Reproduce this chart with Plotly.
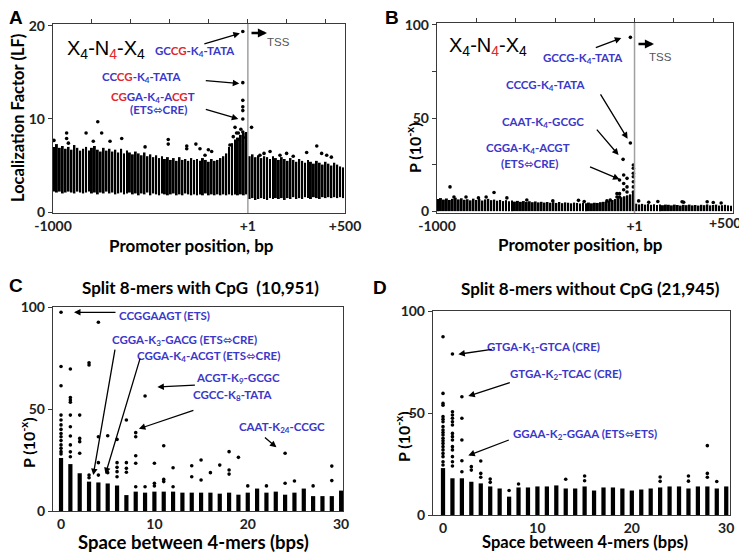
import plotly.graph_objects as go

# page offset of the plot div inside the browser window (default body margin)
OX, OY = 8, 8
FW, FH = 739, 549

# ---------------- Panel A: Localization factor vs promoter position ----------------
a_cols = list(range(-995, 500, 15))
a_top = [7.0, 7.3, 6.9, 7.1, 6.8, 7.0, 6.7, 7.2, 6.9, 6.6,
         6.8, 7.0, 6.6, 6.9, 7.1, 6.7, 6.5, 6.9, 6.6, 6.8,
         6.5, 6.7, 6.4, 6.8, 6.3, 6.6, 6.4, 6.2, 6.5, 6.3,
         6.1, 6.4, 6.0, 6.2, 5.9, 6.1, 5.8, 6.0, 5.7, 5.9,
         5.6, 5.8, 5.5, 5.9, 5.6, 5.7, 5.5, 5.8, 5.6, 5.7,
         5.5, 5.8, 5.6, 5.4, 5.7, 5.5, 5.6, 5.8, 6.0, 6.3,
         7.0, 7.4, 7.8, 8.0, 8.3, 8.5, 8.6,
         6.0, 6.2, 5.9, 6.1, 5.8, 6.0, 5.9, 5.7, 6.0, 5.8,
         5.6, 5.9, 5.7, 5.5, 5.8, 5.6, 5.4, 5.7, 5.5, 5.3,
         5.6, 5.4, 5.2, 5.5, 5.3, 5.1, 5.4, 5.2, 5.0, 5.3,
         5.1, 4.9, 4.8]
a_bot = [2.2, 2.1, 2.2, 2.0, 2.1, 2.2, 2.1, 2.0, 2.2, 2.1,
         2.0, 2.1, 2.2, 2.0, 2.1, 1.9, 2.1, 2.0, 2.2, 2.0,
         2.1, 1.9, 2.0, 2.1, 1.9, 2.0, 2.1, 1.9, 2.0, 1.8,
         2.0, 1.9, 2.1, 1.8, 2.0, 1.9, 1.8, 2.0, 1.9, 1.8,
         1.9, 2.0, 1.8, 1.9, 1.8, 2.0, 1.9, 1.8, 1.9, 1.8,
         1.9, 1.8, 2.0, 1.8, 1.9, 1.8, 1.9, 1.8, 1.9, 1.8,
         1.9, 1.8, 1.9, 1.8, 1.9, 1.8, 1.9,
         1.4, 1.5, 1.3, 1.4, 1.5, 1.4, 1.3, 1.5, 1.4, 1.5,
         1.4, 1.5, 1.3, 1.5, 1.4, 1.6, 1.4, 1.5, 1.4, 1.6,
         1.5, 1.4, 1.6, 1.5, 1.4, 1.6, 1.5, 1.6, 1.5, 1.6,
         1.5, 1.6, 1.5]
a_out_x = [-995, -930, -930, -921, -830, -793, -770, -750, -707, -647, -527, -408, -408,
           -313, -313, -266, -245, -219, -202, -185, -91, -74, -65, -57, -48, -50, -35,
           -25, -25, -25, -25, -25, -25, -25, -10, 20, 63, 84, 115, 166, 200, 234, 303,
           355, 380, 406, 430]
a_out_y = [7.7, 8.5, 7.9, 7.4, 8.5, 7.6, 9.7, 8.5, 7.6, 7.9, 7.0, 7.8, 7.3,
           7.1, 6.8, 7.3, 6.8, 6.1, 6.7, 6.5, 7.2, 8.1, 9.1, 8.5, 8.5, 7.8, 8.9,
           19.4, 13.9, 12.0, 11.3, 10.9, 10.0, 8.6, 8.0, 9.1, 6.1, 6.3, 6.5, 6.1, 6.3, 6.0, 6.4,
           7.1, 6.3, 6.1, 5.9]

# ---------------- Panel B: P vs promoter position ----------------
b_cols = list(range(-995, 500, 15))
b_top = [6.5, 7.0, 6.2, 6.8, 6.0, 6.6, 7.2, 6.3, 6.9, 6.1,
         6.4, 5.8, 6.7, 6.0, 6.5, 5.7, 6.3, 6.6, 5.9, 6.2,
         5.6, 6.0, 5.4, 5.9, 5.3, 5.7, 5.1, 5.5, 5.0, 5.4,
         4.9, 5.3, 4.8, 5.2, 4.7, 5.0, 4.6, 4.9, 4.5, 4.8,
         4.4, 4.9, 4.3, 4.7, 4.5, 4.2, 4.6, 4.4, 4.1, 4.5,
         4.3, 4.6, 4.2, 4.5, 4.4, 4.8, 5.0, 5.2, 5.5, 6.0,
         6.5, 7.0, 7.5, 8.0, 8.5, 9.0, 10.0,
         4.0, 3.6, 3.9, 3.5, 3.8, 3.4, 3.7, 3.3, 3.6, 3.2,
         3.5, 3.4, 3.1, 3.5, 3.3, 3.0, 3.4, 3.2, 3.5, 3.1,
         3.3, 3.0, 3.4, 3.2, 3.6, 3.1, 3.3, 3.5, 3.0, 3.2,
         3.4, 3.1, 2.9]
b_out_x = [-934, -914, -853, -790, -751, -711, -646, -545, -413, -283, -254, -139, -122,
           -88, -88, -75, -75, -75, -57, -54, -54, -54, -37, -37, -37, -20, -20,
           -5, -5, -5, -5, -5, -5, -5, 22, 73, 119, 242, 250, 369, 400, 440]
b_out_y = [13.0, 7.6, 7.6, 7.1, 7.6, 10.0, 7.1, 6.0, 5.5, 5.8, 5.2, 5.5, 6.0,
           9.4, 7.6, 16.7, 9.4, 7.6, 27.8, 19.4, 14.8, 11.5, 17.6, 13.0, 10.3, 93.3, 36.6,
           24.8, 23.0, 20.3, 18.5, 15.8, 13.0, 10.3, 5.5, 4.8, 5.2, 5.0, 4.8, 5.0, 4.6, 4.4]

# ---------------- Panel C: split 8-mers with CpG ----------------
c_space = list(range(0, 31))
c_dense = [26, 23, 18.5, 14.4, 14, 13.5, 12.5, 7.8, 9.5, 9, 9.5, 9.5, 9.5, 9, 9, 9,
           9, 8.5, 9, 8, 9, 11, 9, 9.5, 8, 9, 11, 7.3, 7.3, 7.3, 10]
c_out_x = [0, 0, 0, 0, 0, 0, 0, 0, 0, 0, 0, 0, 0, 0,
           1, 1, 1, 1, 1, 1, 1, 1, 1, 1,
           2, 2, 2, 2, 3, 3, 3, 3, 4, 4, 4, 4, 5, 5,
           6, 6, 6, 6, 6, 7, 7, 7, 7, 8, 8, 8, 8, 8, 9, 9,
           10, 10, 10, 11, 11, 11, 12, 12, 14, 14, 15, 15, 16, 17,
           18, 18, 18, 19, 20, 22, 24, 24, 25, 27, 29, 29]
c_out_y = [97.4, 70.8, 61.4, 47, 44.6, 42.2, 40, 38, 36.4, 34.5, 32.4, 30.7, 29.1, 28,
           69.6, 55.6, 54.4, 53.3, 47, 41.3, 36.8, 32.4, 29, 26.6,
           47, 35.6, 34, 28.3, 72.7, 71.6, 17.6, 16.3, 92.5, 36.4, 23.7, 17.6, 36.9, 18.8,
           35.1, 23.7, 21.4, 19.3, 16.8, 44.6, 23.7, 20.9, 19, 38.4, 36.4, 27.1, 23.4, 11.9, 56.4, 11.9,
           23.4, 13.6, 12.3, 32, 15.5, 14.4, 21.2, 11.9, 22.2, 16.8, 25, 15.2, 18.8, 22.5,
           29.1, 20.1, 18.1, 26.3, 12.3, 12.3, 28.3, 13.6, 14.7, 12.3, 22, 14.9]

# ---------------- Panel D: split 8-mers without CpG ----------------
d_space = list(range(0, 31))
d_dense = [23, 18, 18, 16.3, 15.5, 14, 13, 9, 13.5, 13.5, 14, 14, 14.5, 13, 13, 14,
           12, 13.5, 13.5, 13, 12, 12.5, 13, 13.5, 14, 14, 13, 14, 14, 13, 14]
d_out_x = [0, 0, 0, 0, 0, 0, 0, 0, 0, 0, 0, 0, 0, 0, 0, 0, 0, 0, 0, 0,
           1, 1, 1, 1, 1, 1, 1, 1, 1, 1, 1, 1, 1, 1,
           2, 2, 2, 2, 2, 3, 3, 4, 4, 4, 5, 5, 7, 8,
           13, 15, 15, 23, 23, 26, 26, 28, 28, 28, 29]
d_out_y = [87.4, 59.6, 54.7, 53.8, 48.2, 46.9, 45.7, 43.3, 41.7, 40.4, 39.2, 37.6, 36.4,
           35.1, 33.5, 31.9, 30.2, 28.6, 26.1, 24.5,
           78.9, 50.6, 49, 47.4, 45.7, 44.1, 40, 38.4, 36.8, 33.5, 31.9, 28.6, 26.1, 24,
           58, 47.4, 36.8, 26.6, 21.2, 23.7, 22, 26.5, 20.4, 18.5, 17.6, 16, 12, 15.2,
           17.5, 19.1, 16.8, 18.6, 16.5, 19.1, 16.6, 34, 20.4, 18.5, 16.4]

BLUE = "#3b38c9"
RED = "#e3262b"
FONT = "Lato"
AXC = "#3a3a3a"


def px(x):
    return (x - OX) / FW


def py(y):
    return 1 - (y - OY) / FH


fig = go.Figure()
dot = dict(color="black", size=3.6)

fig.add_trace(go.Bar(x=a_cols, y=[t - b for t, b in zip(a_top, a_bot)], base=a_bot, width=10,
                     marker=dict(color="black", line_width=0), xaxis="x", yaxis="y"))
fig.add_trace(go.Scatter(x=a_out_x, y=a_out_y, mode="markers", marker=dot, xaxis="x", yaxis="y"))
fig.add_trace(go.Bar(x=b_cols, y=b_top, width=10,
                     marker=dict(color="black", line_width=0), xaxis="x2", yaxis="y2"))
fig.add_trace(go.Scatter(x=b_out_x, y=b_out_y, mode="markers", marker=dot, xaxis="x2", yaxis="y2"))
fig.add_trace(go.Bar(x=c_space, y=c_dense, width=0.45,
                     marker=dict(color="black", line_width=0), xaxis="x3", yaxis="y3"))
fig.add_trace(go.Scatter(x=c_out_x, y=c_out_y, mode="markers", marker=dot, xaxis="x3", yaxis="y3"))
fig.add_trace(go.Bar(x=d_space, y=d_dense, width=0.45,
                     marker=dict(color="black", line_width=0), xaxis="x4", yaxis="y4"))
fig.add_trace(go.Scatter(x=d_out_x, y=d_out_y, mode="markers", marker=dot, xaxis="x4", yaxis="y4"))
fig.add_trace(go.Scatter(x=[None], y=[None], xaxis="x5", yaxis="y", hoverinfo="skip"))
fig.add_trace(go.Scatter(x=[None], y=[None], xaxis="x6", yaxis="y2", hoverinfo="skip"))

tickfont = dict(family=FONT, size=14, color="#222", weight="bold")


def xax(dom, rng, tv, tt, anchor, ticks=""):
    return dict(domain=[px(dom[0]), px(dom[1])], range=rng, tickvals=tv, ticktext=tt,
                anchor=anchor, showline=True, mirror=True, linecolor=AXC, linewidth=1.4,
                ticks=ticks, ticklen=3, tickcolor=AXC, showgrid=False, zeroline=False,
                tickfont=tickfont, fixedrange=True, automargin=False, ticklabeloverflow="allow")


def yax(dom, rng, tv, tt, anchor):
    return dict(domain=[py(dom[1]), py(dom[0])], range=rng, tickvals=tv, ticktext=tt,
                anchor=anchor, showline=True, mirror=True, linecolor=AXC, linewidth=1.4,
                ticks="outside", ticklen=4, tickcolor=AXC, showgrid=False, zeroline=False,
                tickfont=tickfont, fixedrange=True, automargin=False)


pos_ticks = [-1000, 1, 500]
top_ticks = [-800, -600, -400, -200, 0, 200, 400]


def topax(over, anchor):
    return dict(overlaying=over, side="top", anchor=anchor, range=[-1000, 500], tickvals=top_ticks,
                ticks="outside", ticklen=4, tickcolor=AXC, showticklabels=False, showline=False,
                showgrid=False, zeroline=False, fixedrange=True, automargin=False)


layout = dict(
    template="none",
    width=FW, height=FH, margin=dict(l=0, r=0, t=0, b=0, pad=0), autosize=False,
    paper_bgcolor="white", plot_bgcolor="white", showlegend=False, barmode="overlay",
    xaxis=xax((53, 345), [-1000, 500], pos_ticks, ["-1000", "+1", "+500"], "y"),
    yaxis=yax((24, 213), [-0.1, 20.2], [0, 10, 20], ["0", "10", "20"], "x"),
    xaxis2=xax((437, 733), [-1000, 500], pos_ticks[:2], ["-1000", "+1"], "y2"),
    yaxis2=yax((23, 213), [-1, 101], [0, 25, 50, 75, 100], ["0", "", "50", "", "100"], "x2"),
    xaxis3=xax((53, 343), [-0.86, 30.2], [0, 10, 20, 30], ["0", "10", "20", "30"], "y3"),
    yaxis3=yax((307, 511), [0, 100], [0, 50, 100], ["0", "50", "100"], "x3"),
    xaxis4=xax((433, 730), [-1.06, 30.4], [0, 10, 20, 30], ["0", "10", "20", "30"], "y4"),
    yaxis4=yax((311, 515), [0, 100], [0, 50, 100], ["0", "50", "100"], "x4"),
    xaxis5=topax("x", "y"),
    xaxis6=topax("x2", "y2"),
)
fig.update_layout(**layout)

for xr, yr in (("x", "y domain"), ("x2", "y2 domain")):
    fig.add_shape(type="line", xref=xr, yref=yr, x0=1, x1=1, y0=0, y1=1,
                  line=dict(color="#a0a0a0", width=1.5))

anns = []


def txt(text, x, y, size=11.5, color="black", family=FONT, angle=0, xanchor="center"):
    anns.append(dict(text=text, x=px(x), y=py(y), xref="paper", yref="paper", showarrow=False,
                     font=dict(size=size, color=color, family=family), textangle=angle,
                     xanchor=xanchor, yanchor="middle"))


def arrow(x, y, xr, yr, ax, ay, width=1.3, head=2, size=1.0):
    anns.append(dict(text="", x=x, y=y, xref=xr, yref=yr, ax=ax, ay=ay, showarrow=True,
                     arrowhead=head, arrowsize=size, arrowwidth=width, arrowcolor="black"))


def b(s):
    return "<b>" + s + "</b>"


def blue(s):
    return "<span style='color:%s'>%s</span>" % (BLUE, s)


def red(s):
    return "<span style='color:%s'>%s</span>" % (RED, s)


DARR = "<span style='font-family:DejaVu Sans'>⬄</span>"
K = lambda n: "-K<sub>%s</sub>-" % n
xnx = "X<sub>4</sub>-N<sub><span style='color:%s'>4</span></sub>-X<sub>4</sub>" % RED

for L, x, y in (("A", 16, 17), ("B", 392, 17), ("C", 16, 285), ("D", 380, 287)):
    txt(b(L), x, y, size=19, family="Liberation Sans")

LBL = 11.5
AXT = 17

# ---- Panel A texts
txt(xnx, 106, 50, size=20, family="Liberation Sans")
txt(b(blue("GC") + red("CG") + blue(K(4) + "TATA")), 195, 51, size=LBL)
txt(b(blue("CC") + red("CG") + blue(K(4) + "TATA")), 141, 77, size=LBL)
txt(b(red("CG") + blue("GA" + K(4) + "A") + red("CG") + blue("T")), 153, 97, size=LBL)
txt(b(blue("(ETS" + DARR + "CRE)")), 158, 110, size=LBL)
txt("TSS", 278, 42, size=11.5, color="#555555", family="Liberation Sans")
anns.append(dict(text="", x=px(267), y=py(33), xref="paper", yref="paper", ax=-17, ay=0,
                 showarrow=True, arrowhead=2, arrowsize=0.7, arrowwidth=2.6, arrowcolor="black"))
arrow(-40, 19.2, "x", "y", -37, 11)
arrow(-43, 13.8, "x", "y", -35, -3)
arrow(-48, 10.0, "x", "y", -34, -10)
txt(b("Localization Factor (LF)"), 18, 118, size=16.5, angle=-90)
txt(b("Promoter position, bp"), 191, 245, size=AXT)

# ---- Panel B texts
txt(xnx, 488, 47, size=20, family="Liberation Sans")
txt(b(blue("GCCG" + K(4) + "TATA")), 583, 59, size=LBL)
txt(b(blue("CCCG" + K(4) + "TATA")), 545, 86, size=LBL)
txt(b(blue("CAAT" + K(4) + "GCGC")), 543, 122, size=LBL)
txt(b(blue("CGGA" + K(4) + "ACGT")), 528, 148, size=LBL)
txt(b(blue("(ETS" + DARR + "CRE)")), 529, 164, size=LBL)
txt("TSS", 660, 57, size=11.5, color="#555555", family="Liberation Sans")
anns.append(dict(text="", x=px(654), y=py(44), xref="paper", yref="paper", ax=-17, ay=0,
                 showarrow=True, arrowhead=2, arrowsize=0.7, arrowwidth=2.6, arrowcolor="black"))
arrow(-66, 92.9, "x2", "y2", -27, 10)
arrow(-34, 38.8, "x2", "y2", -28, -46)
arrow(-80, 30.1, "x2", "y2", -23, -27)
arrow(-75, 17.1, "x2", "y2", -31, -13)
# end label of B's position axis, pulled inside the window like the reference
anns.append(dict(text="+500", x=px(725), y=py(222), xref="paper", yref="paper", showarrow=False,
                 font=tickfont, xanchor="center", yanchor="middle"))
txt(b("P (10<sup>-x</sup>)"), 413, 148, size=16, angle=-90)
txt(b("Promoter position, bp"), 580, 244, size=AXT)

# ---- Panel C texts
txt(b("Split 8-mers with CpG &nbsp;(10,951)"), 200, 287, size=17)
txt(b(blue("CCGGAAGT (ETS)")), 164, 315, size=LBL)
txt(b(blue("CGGA" + K(3) + "GACG (ETS" + DARR + "CRE)")), 184, 340, size=LBL)
txt(b(blue("CGGA" + K(4) + "ACGT (ETS" + DARR + "CRE)")), 209, 356, size=LBL)
txt(b(blue("ACGT" + K(9) + "GCGC")), 238, 378, size=LBL)
txt(b(blue("CGCC" + K(8) + "TATA")), 233, 395, size=LBL)
txt(b(blue("CAAT" + K(24) + "CCGC")), 282, 427, size=LBL)
arrow(1.39, 97.4, "x3", "y3", 43, 0)
arrow(3.45, 17.6, "x3", "y3", 22, -127)
arrow(4.76, 18.1, "x3", "y3", 35, -117)
arrow(10.32, 60.8, "x3", "y3", 39, -2)
arrow(8.34, 40.3, "x3", "y3", 56, -19)
arrow(23.07, 31.2, "x3", "y3", -13, -11)
txt(b("P (10<sup>-x</sup>)"), 27, 443, size=16, angle=-90)
txt(b("Space between 4-mers (bps)"), 193, 542, size=18.5)

# ---- Panel D texts
txt(b("Split 8-mers without CpG (21,945)"), 590, 288, size=17)
txt(b(blue("GTGA" + K(1) + "GTCA (CRE)")), 543, 347, size=LBL)
txt(b(blue("GTGA" + K(2) + "TCAC (CRE)")), 566, 374, size=LBL)
txt(b(blue("GGAA" + K(2) + "GGAA (ETS" + DARR + "ETS)")), 585, 434, size=LBL)
arrow(1.62, 78.8, "x4", "y4", 35, -5)
arrow(2.68, 58.3, "x4", "y4", 43, -14)
arrow(2.68, 29.2, "x4", "y4", 42, -16)
txt(b("P (10<sup>-x</sup>)"), 402, 437, size=16, angle=-90)
txt(b("Space between 4-mers (bps)"), 585, 542, size=16.5)

fig.update_layout(annotations=anns)
fig.write_html("out.html")
